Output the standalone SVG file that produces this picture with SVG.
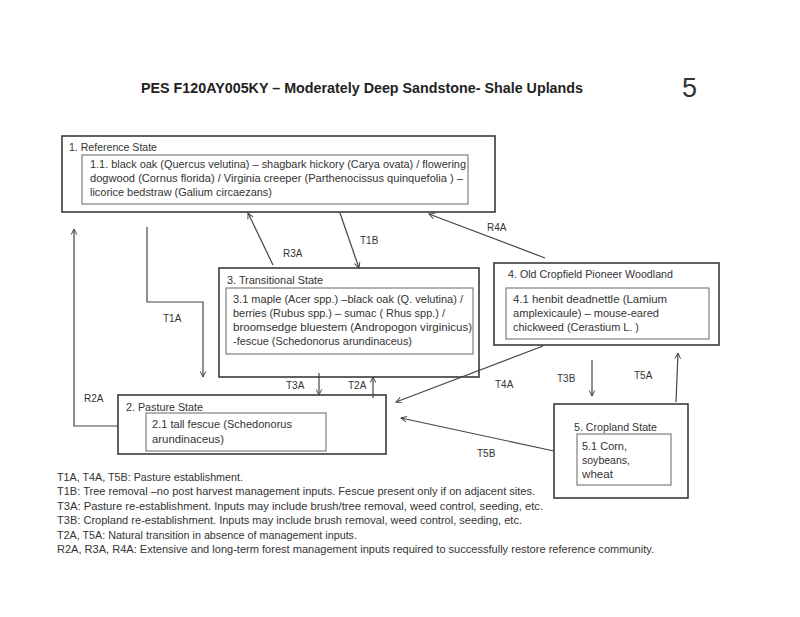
<svg xmlns="http://www.w3.org/2000/svg" width="800" height="617" viewBox="0 0 800 617">
<style>
text{font-family:"Liberation Sans",Arial,sans-serif;fill:#333;font-size:10.5px}
.title{font-weight:bold;font-size:14px;fill:#222}
.num{font-size:27px;fill:#333}
.outer{fill:none;stroke:#3a3a3a;stroke-width:1.6}
.inner{fill:none;stroke:#666;stroke-width:1}
.conn{fill:none;stroke:#444;stroke-width:1.2;marker-end:url(#ah)}
.lbl{font-size:10px}
</style>
<defs>
<marker id="ah" viewBox="0 0 10 10" refX="9" refY="5" markerWidth="7" markerHeight="7" orient="auto" markerUnits="userSpaceOnUse">
<path d="M1,1 L9,5 L1,9" fill="none" stroke="#444" stroke-width="1.4"/>
</marker>
</defs>
<rect width="800" height="617" fill="#fff"/>
<text class="title" x="141" y="93" textLength="442" lengthAdjust="spacingAndGlyphs">PES F120AY005KY – Moderately Deep Sandstone- Shale Uplands</text>
<text class="num" x="682" y="97">5</text>

<g id="node-reference">
<rect class="outer" x="62" y="136" width="433" height="76"/>
<text x="69" y="151" textLength="88" lengthAdjust="spacingAndGlyphs">1. Reference State</text>
<rect class="inner" x="82" y="155" width="386" height="49"/>
<text x="90" y="168" textLength="376" lengthAdjust="spacingAndGlyphs">1.1. black oak (Quercus velutina) – shagbark hickory (Carya ovata) / flowering</text>
<text x="90" y="182" textLength="373" lengthAdjust="spacingAndGlyphs">dogwood (Cornus florida) / Virginia creeper (Parthenocissus quinquefolia ) –</text>
<text x="90" y="196" textLength="182" lengthAdjust="spacingAndGlyphs">licorice bedstraw (Galium circaezans)</text>
</g>

<g id="node-transitional">
<rect class="outer" x="219" y="268" width="260" height="109"/>
<text x="227" y="284" textLength="96" lengthAdjust="spacingAndGlyphs">3. Transitional State</text>
<rect class="inner" x="226" y="288" width="247" height="66"/>
<text x="233" y="303" textLength="230" lengthAdjust="spacingAndGlyphs">3.1 maple (Acer spp.) –black oak (Q. velutina) /</text>
<text x="233" y="317" textLength="212" lengthAdjust="spacingAndGlyphs">berries (Rubus spp.) – sumac ( Rhus spp.)  /</text>
<text x="233" y="331" textLength="239" lengthAdjust="spacingAndGlyphs">broomsedge bluestem (Andropogon virginicus)</text>
<text x="233" y="345" textLength="179" lengthAdjust="spacingAndGlyphs">-fescue (Schedonorus arundinaceus)</text>
</g>

<g id="node-cropfield">
<rect class="outer" x="494" y="263" width="225" height="82"/>
<text x="508" y="278" textLength="165" lengthAdjust="spacingAndGlyphs">4. Old Cropfield Pioneer Woodland</text>
<rect class="inner" x="506" y="288" width="203" height="51"/>
<text x="513" y="303" textLength="154" lengthAdjust="spacingAndGlyphs">4.1 henbit deadnettle (Lamium</text>
<text x="513" y="317" textLength="146" lengthAdjust="spacingAndGlyphs">amplexicaule) – mouse-eared</text>
<text x="513" y="331" textLength="126" lengthAdjust="spacingAndGlyphs">chickweed (Cerastium L. )</text>
</g>

<g id="node-pasture">
<rect class="outer" x="118" y="395" width="268" height="59"/>
<text x="126" y="411" textLength="77" lengthAdjust="spacingAndGlyphs">2. Pasture State</text>
<rect class="inner" x="146" y="413" width="180" height="38"/>
<text x="152" y="428" textLength="140" lengthAdjust="spacingAndGlyphs">2.1 tall fescue (Schedonorus</text>
<text x="152" y="443" textLength="72" lengthAdjust="spacingAndGlyphs">arundinaceus)</text>
</g>

<g id="node-cropland">
<rect class="outer" x="554" y="404" width="134" height="94"/>
<text x="574" y="431" textLength="83" lengthAdjust="spacingAndGlyphs">5. Cropland State</text>
<rect class="inner" x="577" y="434" width="94" height="51"/>
<text x="582" y="450" textLength="45" lengthAdjust="spacingAndGlyphs">5.1 Corn,</text>
<text x="582" y="464" textLength="48" lengthAdjust="spacingAndGlyphs">soybeans,</text>
<text x="582" y="478" textLength="31" lengthAdjust="spacingAndGlyphs">wheat</text>
</g>

<g id="connectors">
<polyline class="conn" points="147,227 147,302 203,302 203,377"/>
<polyline class="conn" points="118,426 74,426 74,229"/>
<line class="conn" x1="273" y1="265" x2="248" y2="213"/>
<line class="conn" x1="340" y1="213" x2="359" y2="268"/>
<line class="conn" x1="545" y1="258" x2="429" y2="214"/>
<line class="conn" x1="319" y1="373" x2="319" y2="395"/>
<line class="conn" x1="373" y1="398" x2="373" y2="377"/>
<line class="conn" x1="543" y1="346" x2="396" y2="402"/>
<line class="conn" x1="554" y1="451" x2="401" y2="418"/>
<line class="conn" x1="592" y1="360" x2="592" y2="396"/>
<line class="conn" x1="676" y1="402" x2="678" y2="353"/>
<text class="lbl" x="163" y="322">T1A</text>
<text class="lbl" x="84" y="402">R2A</text>
<text class="lbl" x="283" y="257">R3A</text>
<text class="lbl" x="360" y="244">T1B</text>
<text class="lbl" x="487" y="231">R4A</text>
<text class="lbl" x="286" y="389">T3A</text>
<text class="lbl" x="348" y="389">T2A</text>
<text class="lbl" x="495" y="388">T4A</text>
<text class="lbl" x="477" y="457">T5B</text>
<text class="lbl" x="557" y="382">T3B</text>
<text class="lbl" x="634" y="379">T5A</text>
</g>

<g id="legend">
<text x="57" y="481" textLength="186" lengthAdjust="spacingAndGlyphs">T1A, T4A, T5B: Pasture establishment.</text>
<text x="57" y="495" textLength="478" lengthAdjust="spacingAndGlyphs">T1B: Tree removal –no post harvest management inputs. Fescue present only if on adjacent sites.</text>
<text x="57" y="510" textLength="486" lengthAdjust="spacingAndGlyphs">T3A: Pasture re-establishment.  Inputs may include brush/tree removal, weed control, seeding, etc.</text>
<text x="57" y="524" textLength="465" lengthAdjust="spacingAndGlyphs">T3B: Cropland re-establishment. Inputs may include brush removal, weed control, seeding, etc.</text>
<text x="57" y="539" textLength="300" lengthAdjust="spacingAndGlyphs">T2A, T5A: Natural transition in absence of management inputs.</text>
<text x="57" y="553" textLength="597" lengthAdjust="spacingAndGlyphs">R2A, R3A, R4A: Extensive and long-term forest management inputs required to successfully restore reference community.</text>
</g>
</svg>
